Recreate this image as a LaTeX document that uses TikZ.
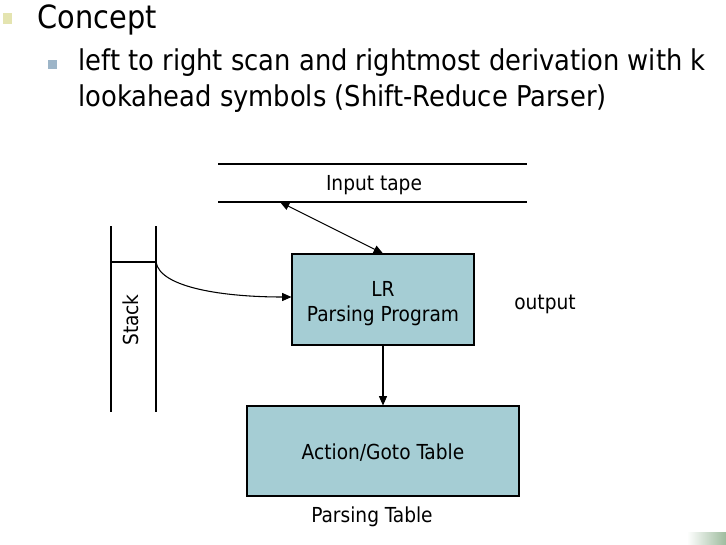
\documentclass[tikz,border=0pt]{standalone}
\usepackage{fontspec}
\setmainfont{DejaVu Sans Condensed}
\usetikzlibrary{arrows.meta}
\definecolor{boxfill}{RGB}{165,205,212}
\definecolor{bulletone}{RGB}{228,228,176}
\definecolor{bullettwo}{RGB}{157,181,200}
\definecolor{cornergreen}{RGB}{60,120,60}
\tikzset{
  tablebox/.style={draw,fill=boxfill,inner sep=0pt,font=\fontsize{15.5}{19}\selectfont},
  lbl/.style={inner sep=0pt,font=\fontsize{15.5}{19}\selectfont},
  tip/.style={-{Triangle[length=7pt,width=6pt]}}
}
\begin{document}
\begin{tikzpicture}[x=0.75pt,y=-0.75pt,line width=0.8pt]
\useasboundingbox (0,0) rectangle (726,544);
% bullets and heading
\fill[bulletone] (3,13) rectangle (12,24);
\node[anchor=base west,inner sep=0pt,font=\fontsize{24}{28}\selectfont] (concept) at (37,28) {Concept};
\fill[bullettwo] (48,60) rectangle (57,69);
\node[anchor=base west,inner sep=0pt,font=\fontsize{21.5}{27}\selectfont] (idea) at (78,70)
  {left to right scan and rightmost derivation with k};
\node[anchor=base west,inner sep=0pt,font=\fontsize{21.5}{27}\selectfont] (idea2) at (78,106)
  {lookahead symbols (Shift-Reduce Parser)};
% input tape
\coordinate (tapeA) at (218,164);
\coordinate (tapeB) at (527,164);
\coordinate (tapeC) at (218,202);
\coordinate (tapeD) at (527,202);
\draw (tapeA) -- (tapeB);
\draw (tapeC) -- (tapeD);
\node[lbl] (tape) at (374,185) {Input tape};
\coordinate (head) at (280,202);
% parsing program and table
\node[tablebox,minimum width=182*0.75pt,minimum height=91*0.75pt] (prog) at (383,299.5) {};
\node[lbl,anchor=base] (progtop) at (383,296) {LR};
\node[lbl,anchor=base] (progbot) at (383,321) {Parsing Program};
\node[tablebox,minimum width=272*0.75pt,minimum height=90*0.75pt] (table) at (383,451) {};
\node[lbl,anchor=base] (tabletext) at (383,459) {Action/Goto Table};
\node[lbl,anchor=base] (tablename) at (372,522) {Parsing Table};
\node[lbl,anchor=base] (output) at (545,309) {output};
% stack
\coordinate (stackA) at (111,226);
\coordinate (stackB) at (111,412);
\coordinate (stackC) at (156,226);
\coordinate (stackD) at (156,412);
\coordinate (stacktop) at (156,262);
\draw (stackA) -- (stackB);
\draw (stackC) -- (stackD);
\draw (111,262) -- (stacktop);
\node[lbl,rotate=90] (stack) at (131,320) {Stack};
% connectors
\draw[{Triangle[length=7pt,width=6pt]}-{Triangle[length=7pt,width=6pt]}] (head) -- (prog.north);
\draw[tip] (stacktop) .. controls (160,288) and (225,297) .. (prog.west |- 0,297);
\draw[tip] (prog.south) -- (table.north);
% corner decoration
\shade[left color=white,right color=cornergreen!50] (687,532) rectangle (726,544);
\end{tikzpicture}
\end{document}
